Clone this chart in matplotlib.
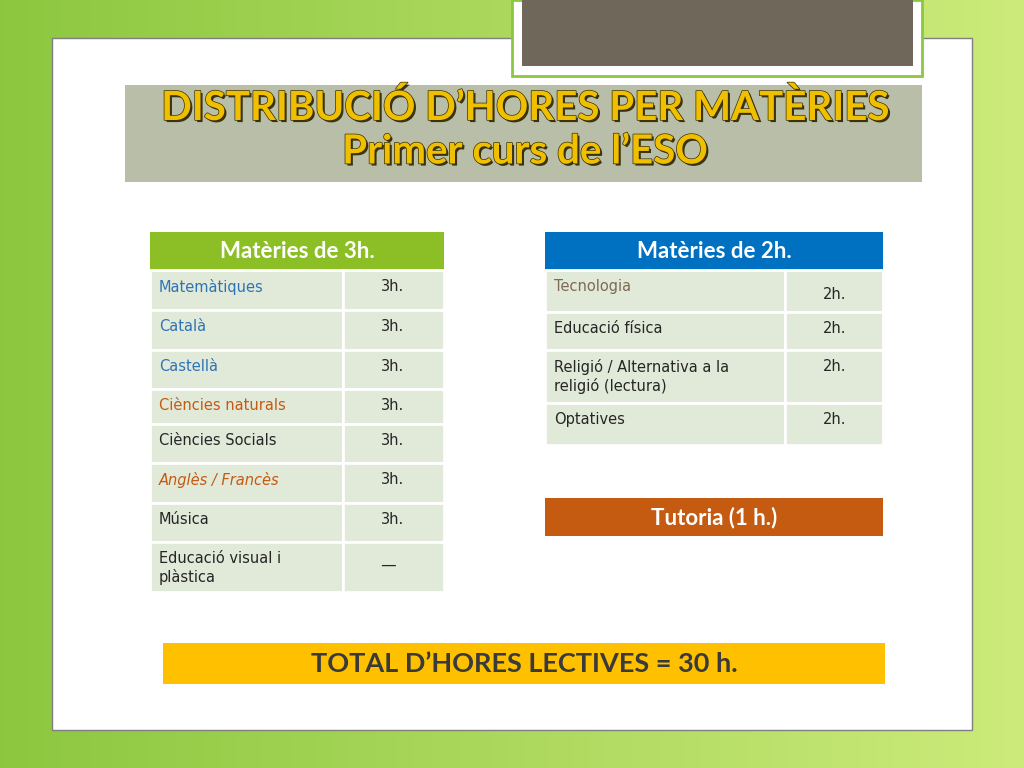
import numpy as np
import matplotlib.pyplot as plt
import matplotlib.patheffects as pe
from matplotlib.patches import Rectangle

TITLE_LINES = ["DISTRIBUCIÓ D’HORES PER MATÈRIES", "Primer curs de l’ESO"]

LEFT_HEADER = "Matèries de 3h."
LEFT_SUBJECTS = ["Matemàtiques", "Català", "Castellà", "Ciències naturals",
                 "Ciències Socials", "Anglès / Francès", "Música",
                 "Educació visual i\nplàstica"]
LEFT_HOURS = ["3h.", "3h.", "3h.", "3h.", "3h.", "3h.", "3h.", "__"]
LEFT_COLORS = ["#2e74b5", "#2e74b5", "#2e74b5", "#c55a11",
               "#262626", "#c55a11", "#262626", "#262626"]
LEFT_ITALIC = [False, False, False, False, False, True, False, False]
LEFT_ROWS = [270, 310, 350, 389, 424, 463, 503, 542, 592]

RIGHT_HEADER = "Matèries de 2h."
RIGHT_SUBJECTS = ["Tecnologia", "Educació física",
                  "Religió / Alternativa a la\nreligió (lectura)", "Optatives"]
RIGHT_HOURS = ["2h.", "2h.", "2h.", "2h."]
RIGHT_COLORS = ["#7f6a55", "#262626", "#262626", "#262626"]
RIGHT_ROWS = [270, 312, 350, 403, 445]

TUTORIA = "Tutoria (1 h.)"
TOTAL = "TOTAL D’HORES LECTIVES = 30 h."

FONT = "Lato"
BODY = "DejaVu Sans"

fig = plt.figure(figsize=(10.24, 7.68), dpi=100)
ax = fig.add_axes([0, 0, 1, 1])
ax.set_xlim(0, 1024)
ax.set_ylim(768, 0)
ax.axis("off")

# green gradient background
grad = np.linspace(0, 1, 256)
c1 = np.array([0.55, 0.78, 0.25])
c2 = np.array([0.80, 0.92, 0.48])
img = c1[None, :] + (c2 - c1)[None, :] * grad[:, None]
ax.imshow(np.tile(img[None, :, :], (256, 1, 1)),
          extent=[0, 1024, 768, 0], aspect="auto", zorder=0)

# white panel
ax.add_patch(Rectangle((52, 38), 920, 692, facecolor="white",
                       edgecolor="#7f7f7f", lw=1, zorder=1))
# top dark box
ax.add_patch(Rectangle((512, 0), 410, 76, facecolor="white",
                       edgecolor="#8dc63f", lw=2, zorder=2))
ax.add_patch(Rectangle((522, 0), 391, 66, facecolor="#6f675a", zorder=3))

# title band
ax.add_patch(Rectangle((125, 85), 797, 97, facecolor="#b9bea8", zorder=2))
for txt, y in zip(TITLE_LINES, [108, 152]):
    ax.text(525, y, txt, ha="center", va="center", fontsize=29,
            fontweight="bold", color="#f0c000", family=FONT, zorder=4,
            path_effects=[pe.SimplePatchShadow(offset=(1.5, -1.5),
                                               shadow_rgbFace="#2a2400", alpha=0.9),
                          pe.withStroke(linewidth=1.0, foreground="#3a3000")])


def draw_table(x0, x1, xs, header, hcolor, subjects, hours, colors, rows,
               italics=None, first_low=False):
    ax.add_patch(Rectangle((x0, 232), x1 - x0, 38, facecolor=hcolor, zorder=2))
    ax.text((x0 + x1) / 2, 252, header, ha="center", va="center",
            fontsize=16, fontweight="bold", color="white", family=FONT, zorder=4)
    for i, (s, h, c) in enumerate(zip(subjects, hours, colors)):
        top, bot = rows[i], rows[i + 1]
        for a, b in [(x0, xs), (xs, x1)]:
            ax.add_patch(Rectangle((a, top), b - a, bot - top,
                                   facecolor="#e1e9d9", edgecolor="white",
                                   lw=2, zorder=2))
        style = "italic" if italics and italics[i] else "normal"
        ax.text(x0 + 9, top + 9, s, ha="left", va="top", fontsize=10.5,
                color=c, style=style, family=BODY, zorder=4, linespacing=1.25)
        hy = top + 17 if (first_low and i == 0) else top + 9
        ax.text(xs + 38, hy, h, ha="left", va="top", fontsize=10.5,
                color="#262626", family=BODY, zorder=4)


draw_table(150, 444, 343, LEFT_HEADER, "#8cbf26", LEFT_SUBJECTS, LEFT_HOURS,
           LEFT_COLORS, LEFT_ROWS, italics=LEFT_ITALIC)
draw_table(545, 883, 785, RIGHT_HEADER, "#0070c0", RIGHT_SUBJECTS, RIGHT_HOURS,
           RIGHT_COLORS, RIGHT_ROWS, first_low=True)

ax.add_patch(Rectangle((545, 498), 338, 38, facecolor="#c55a11", zorder=2))
ax.text(714, 518, TUTORIA, ha="center", va="center", fontsize=16,
        fontweight="bold", color="white", family=FONT, zorder=4)

ax.add_patch(Rectangle((163, 643), 722, 41, facecolor="#ffc000", zorder=2))
ax.text(524, 664, TOTAL, ha="center", va="center", fontsize=19.5,
        fontweight="bold", color="#3a3a3a", family=FONT, zorder=4)

fig.savefig("out.png", dpi=100)
